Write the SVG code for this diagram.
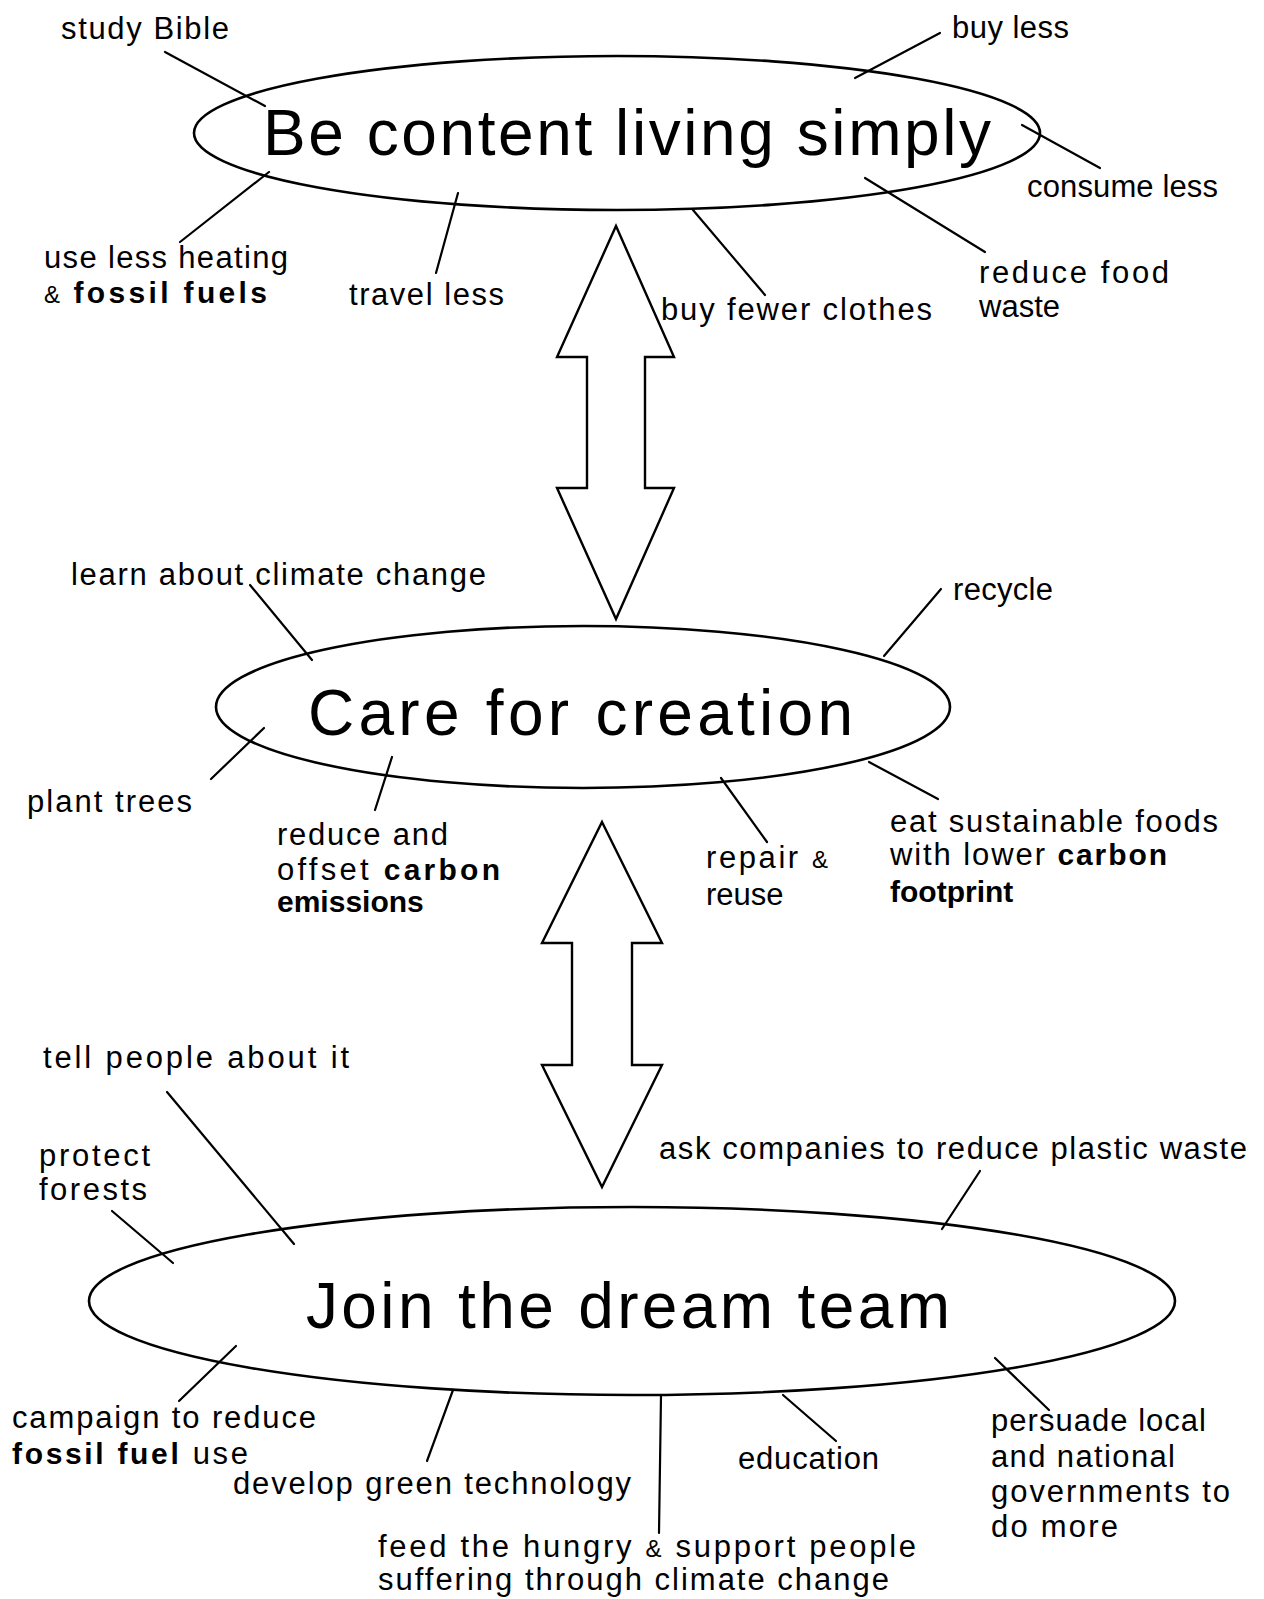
<svg xmlns="http://www.w3.org/2000/svg" width="1264" height="1599" viewBox="0 0 1264 1599">
<style>
.bg{fill:#ffffff}
.ell{fill:none;stroke:#000;stroke-width:2.6}
.title{font-family:"Liberation Sans",Arial,sans-serif;font-size:64px;fill:#000}
.lbl{font-family:"Liberation Sans",Arial,sans-serif;font-size:31px;fill:#000}
.b{font-weight:bold;font-size:30px}
.amp{font-size:24px}
.con line{stroke:#000;stroke-width:2.2;stroke-linecap:round}
.big{fill:#fff;stroke:#000;stroke-width:2.4;stroke-linejoin:miter}
</style>
<rect class="bg" x="0" y="0" width="1264" height="1599"/>

<g id="connectors" class="con">
  <line x1="165" y1="52" x2="265" y2="106"/>
  <line x1="940" y1="33" x2="855" y2="78"/>
  <line x1="1022" y1="125" x2="1100" y2="168"/>
  <line x1="865" y1="178" x2="985" y2="252"/>
  <line x1="693" y1="210" x2="765" y2="295"/>
  <line x1="269" y1="172" x2="180" y2="242"/>
  <line x1="458" y1="193" x2="436" y2="273"/>
  <line x1="250" y1="585" x2="312" y2="660"/>
  <line x1="264" y1="728" x2="211" y2="779"/>
  <line x1="392" y1="757" x2="375" y2="810"/>
  <line x1="941" y1="589" x2="884" y2="656"/>
  <line x1="721" y1="778" x2="767" y2="842"/>
  <line x1="869" y1="762" x2="938" y2="799"/>
  <line x1="167" y1="1092" x2="294" y2="1244"/>
  <line x1="112" y1="1211" x2="173" y2="1263"/>
  <line x1="236" y1="1346" x2="179" y2="1401"/>
  <line x1="453" y1="1390" x2="427" y2="1461"/>
  <line x1="661" y1="1396" x2="659" y2="1533"/>
  <line x1="783" y1="1395" x2="836" y2="1441"/>
  <line x1="995" y1="1358" x2="1049" y2="1410"/>
  <line x1="980" y1="1171" x2="942" y2="1229"/>
  <path class="big" d="M616,226 L674,357 L645,357 L645,488 L674,488 L616,619 L557,488 L587,488 L587,357 L557,357 Z"/>
  <path class="big" d="M602,822 L662,943 L632,943 L632,1065 L662,1065 L602,1187 L542,1065 L572,1065 L572,943 L542,943 Z"/>
</g>

<g id="node-simply">
  <ellipse class="ell" cx="617" cy="133" rx="423" ry="77"/>
  <text class="title" x="263" y="155" textLength="728" lengthAdjust="spacing">Be content living simply</text>
</g>
<g id="node-creation">
  <ellipse class="ell" cx="583" cy="707" rx="367" ry="81"/>
  <text class="title" x="308" y="735" textLength="545" lengthAdjust="spacing">Care for creation</text>
</g>
<g id="node-dreamteam">
  <ellipse class="ell" cx="632" cy="1301" rx="543" ry="94"/>
  <text class="title" x="306" y="1328" textLength="644" lengthAdjust="spacing">Join the dream team</text>
</g>

<g id="label-study-bible"><text class="lbl" x="61" y="39" textLength="168" lengthAdjust="spacing">study Bible</text></g>
<g id="label-buy-less"><text class="lbl" x="952" y="38" textLength="117" lengthAdjust="spacing">buy less</text></g>
<g id="label-consume-less"><text class="lbl" x="1027" y="197" textLength="191" lengthAdjust="spacing">consume less</text></g>
<g id="label-reduce-food">
  <text class="lbl" x="979" y="283" textLength="190" lengthAdjust="spacing">reduce food</text>
  <text class="lbl" x="979" y="317">waste</text>
</g>
<g id="label-buy-fewer-clothes"><text class="lbl" x="661" y="320" textLength="271" lengthAdjust="spacing">buy fewer clothes</text></g>
<g id="label-heating">
  <text class="lbl" x="44" y="268" textLength="244" lengthAdjust="spacing">use less heating</text>
  <text class="lbl" x="44" y="303" textLength="223" lengthAdjust="spacing"><tspan class="amp">&amp; </tspan><tspan class="b">fossil fuels</tspan></text>
</g>
<g id="label-travel-less"><text class="lbl" x="349" y="305" textLength="155" lengthAdjust="spacing">travel less</text></g>

<g id="label-learn"><text class="lbl" x="71" y="585" textLength="415" lengthAdjust="spacing">learn about climate change</text></g>
<g id="label-recycle"><text class="lbl" x="953" y="600" textLength="100" lengthAdjust="spacing">recycle</text></g>
<g id="label-plant-trees"><text class="lbl" x="27" y="812" textLength="165" lengthAdjust="spacing">plant trees</text></g>
<g id="label-offset">
  <text class="lbl" x="277" y="845" textLength="171" lengthAdjust="spacing">reduce and</text>
  <text class="lbl" x="277" y="880" textLength="223" lengthAdjust="spacing">offset <tspan class="b">carbon</tspan></text>
  <text class="lbl b" x="277" y="912">emissions</text>
</g>
<g id="label-repair">
  <text class="lbl" x="706" y="868" textLength="122" lengthAdjust="spacing">repair <tspan class="amp">&amp;</tspan></text>
  <text class="lbl" x="706" y="905">reuse</text>
</g>
<g id="label-eat">
  <text class="lbl" x="890" y="832" textLength="328" lengthAdjust="spacing">eat sustainable foods</text>
  <text class="lbl" x="890" y="865" textLength="277" lengthAdjust="spacing">with lower <tspan class="b">carbon</tspan></text>
  <text class="lbl b" x="890" y="902">footprint</text>
</g>

<g id="label-tell"><text class="lbl" x="43" y="1068" textLength="306" lengthAdjust="spacing">tell people about it</text></g>
<g id="label-protect">
  <text class="lbl" x="39" y="1166" textLength="111" lengthAdjust="spacing">protect</text>
  <text class="lbl" x="39" y="1200" textLength="108" lengthAdjust="spacing">forests</text>
</g>
<g id="label-ask"><text class="lbl" x="659" y="1159" textLength="588" lengthAdjust="spacing">ask companies to reduce plastic waste</text></g>
<g id="label-campaign">
  <text class="lbl" x="12" y="1428" textLength="304" lengthAdjust="spacing">campaign to reduce</text>
  <text class="lbl" x="12" y="1464" textLength="236" lengthAdjust="spacing"><tspan class="b">fossil fuel</tspan> use</text>
</g>
<g id="label-develop"><text class="lbl" x="233" y="1494" textLength="398" lengthAdjust="spacing">develop green technology</text></g>
<g id="label-education"><text class="lbl" x="738" y="1469" textLength="141" lengthAdjust="spacing">education</text></g>
<g id="label-feed">
  <text class="lbl" x="378" y="1557" textLength="538" lengthAdjust="spacing">feed the hungry <tspan class="amp">&amp;</tspan> support people</text>
  <text class="lbl" x="378" y="1590" textLength="511" lengthAdjust="spacing">suffering through climate change</text>
</g>
<g id="label-persuade">
  <text class="lbl" x="991" y="1431" textLength="215" lengthAdjust="spacing">persuade local</text>
  <text class="lbl" x="991" y="1467" textLength="184" lengthAdjust="spacing">and national</text>
  <text class="lbl" x="991" y="1502" textLength="239" lengthAdjust="spacing">governments to</text>
  <text class="lbl" x="991" y="1537" textLength="127" lengthAdjust="spacing">do more</text>
</g>
</svg>
